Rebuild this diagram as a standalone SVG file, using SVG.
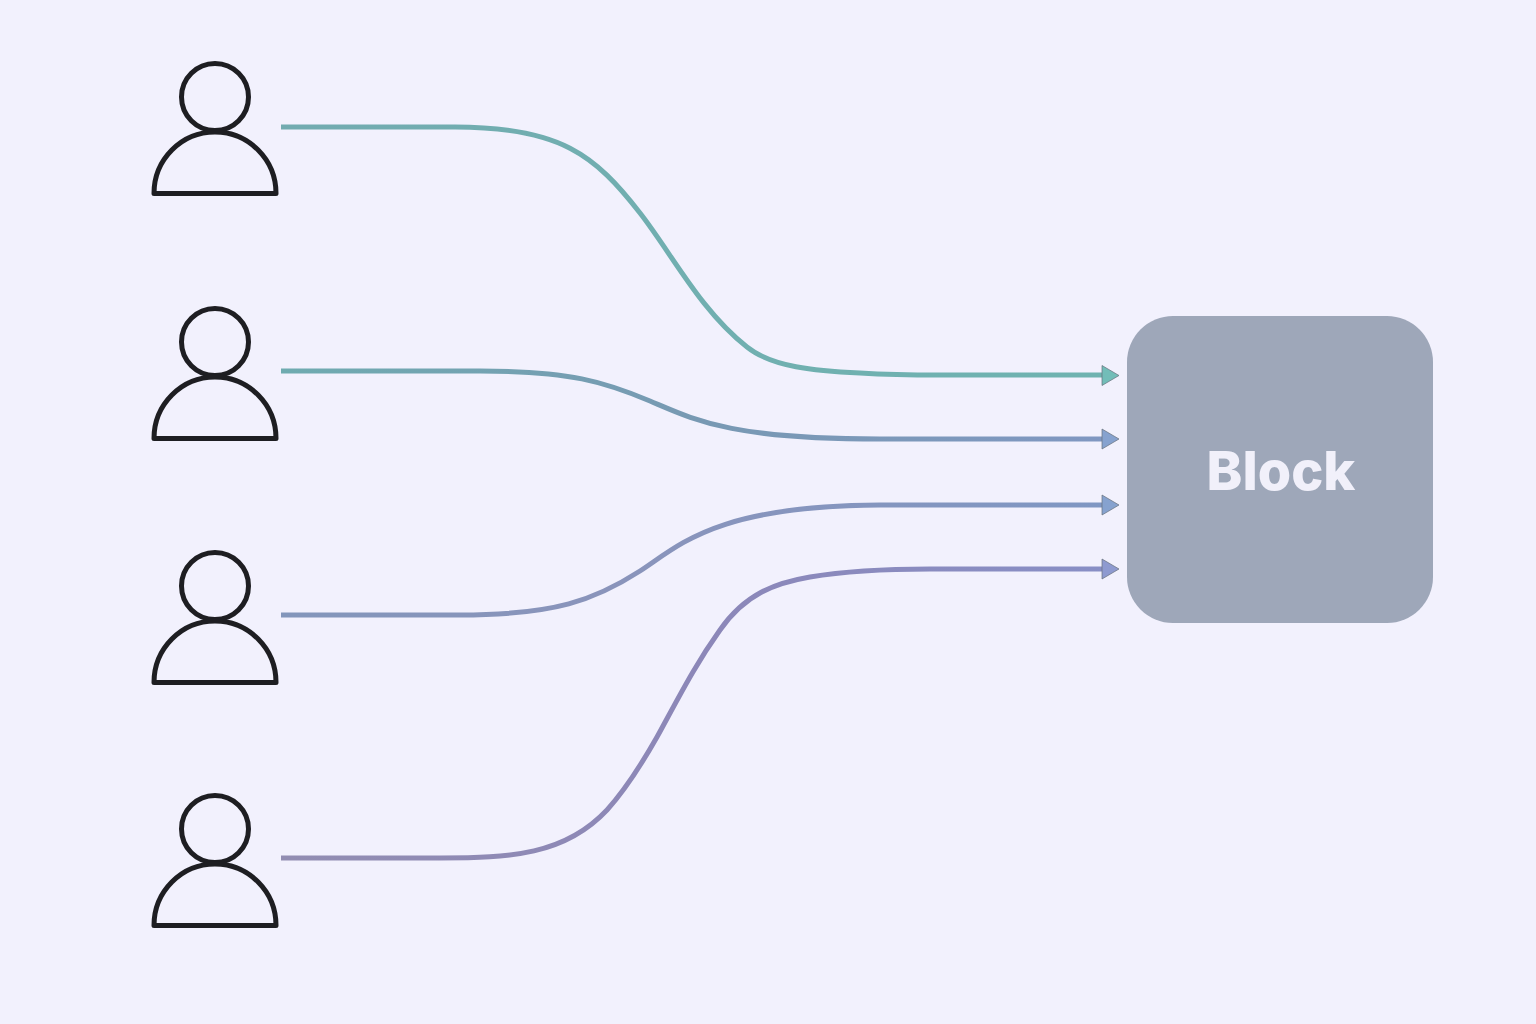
<svg xmlns="http://www.w3.org/2000/svg" xmlns:xlink="http://www.w3.org/1999/xlink" width="1536" height="1024" viewBox="0 0 1536 1024">
<style>
.p{fill:none;stroke:#1e1e22;stroke-width:5;stroke-linejoin:round}
.c{fill:none;stroke-width:5}
.e{stroke:#66707c;stroke-width:1;stroke-opacity:.7}
text{font-family:"Inter","Liberation Sans",sans-serif;font-weight:800;font-size:54px;fill:#f1f0fa;text-anchor:middle}
</style>
<defs>
<symbol id="person" overflow="visible"><circle class="p" cx="215" cy="97" r="33.5"/><path class="p" d="M154 193.500A61 61.500 0 0 1 276 193.500Z"/></symbol>
<linearGradient id="g1" gradientUnits="userSpaceOnUse" x1="281" y1="0" x2="1118" y2="0"><stop offset="0" stop-color="#72abb0"/><stop offset="1" stop-color="#6fb3b0"/></linearGradient>
<linearGradient id="g2" gradientUnits="userSpaceOnUse" x1="281" y1="0" x2="1118" y2="0"><stop offset="0" stop-color="#6fabb0"/><stop offset=".5" stop-color="#7899b3"/><stop offset="1" stop-color="#8097c2"/></linearGradient>
<linearGradient id="g3" gradientUnits="userSpaceOnUse" x1="281" y1="0" x2="1118" y2="0"><stop offset="0" stop-color="#8396bb"/><stop offset=".4" stop-color="#8a94bb"/><stop offset="1" stop-color="#7f97c3"/></linearGradient>
<linearGradient id="g4" gradientUnits="userSpaceOnUse" x1="281" y1="0" x2="1118" y2="0"><stop offset="0" stop-color="#928db2"/><stop offset=".5" stop-color="#8c87b8"/><stop offset="1" stop-color="#888fc6"/></linearGradient>
</defs>
<rect width="1536" height="1024" fill="#f2f1fd"/>
<g id="connectors">
<path class="c" stroke="url(#g1)" d="M281 127L455 127C560 127 595 155 640 213C672 254 700 310 747 347C772 367 815 371 860 373C885 374.500 910 375 940 375L1103 375"/>
<polygon class="e" fill="#72bdb8" points="1102,365.500 1119,375.500 1102,385.500"/>
<path class="c" stroke="url(#g2)" d="M281 371L480 371C570 371 605 382 650 401C695 420 730 439 880 439L1103 439"/>
<polygon class="e" fill="#86a2cf" points="1102,429 1119,439 1102,449"/>
<path class="c" stroke="url(#g3)" d="M281 615L460 615C555 615 595 600 640 571C680 545 715 506 880 505L1103 505"/>
<polygon class="e" fill="#86a2cf" points="1102,495 1119,505 1102,515"/>
<path class="c" stroke="url(#g4)" d="M281 858L440 858C510 858 565 855 607 810C625 790 640 767 657 737C680 695 695 665 720 630C745 594 775 583 810 577C840 572 880 569 930 569L1103 569"/>
<polygon class="e" fill="#8e9ad0" points="1102,559 1119,569 1102,579"/>
</g>
<g id="user-1"><use xlink:href="#person" href="#person"/></g>
<g id="user-2"><use xlink:href="#person" href="#person" y="245"/></g>
<g id="user-3"><use xlink:href="#person" href="#person" y="489"/></g>
<g id="user-4"><use xlink:href="#person" href="#person" y="732"/></g>
<g id="block"><rect x="1127" y="316" width="306" height="307" rx="46" fill="#9ea7b9"/><text x="1281" y="490">Block</text></g>
</svg>
